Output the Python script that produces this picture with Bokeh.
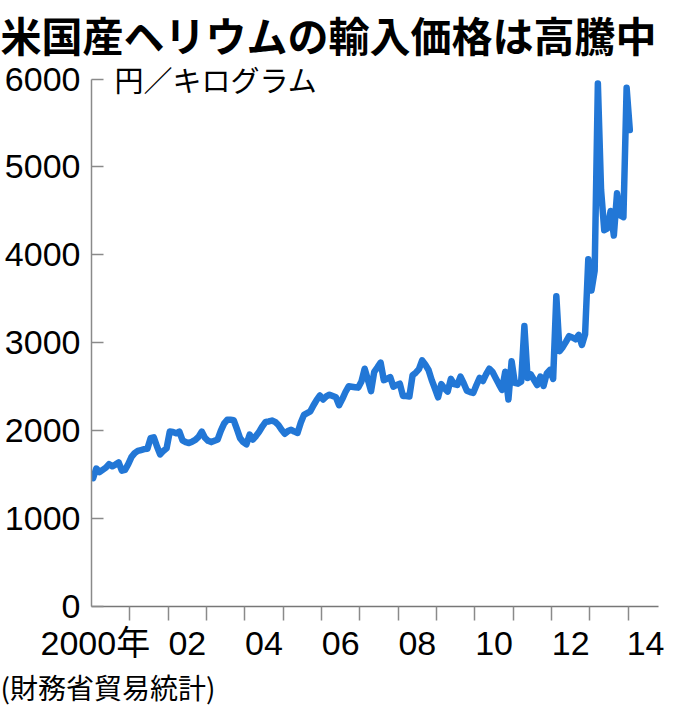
from bokeh.plotting import figure
from bokeh.models import FixedTicker, Label, Range1d, Title
from bokeh.embed import file_html
from bokeh.resources import INLINE

# ---- data (monthly import price of US helium, yen/kg, Jan 2000 - Jan 2014) ----
price = [
    1460, 1570, 1530, 1555, 1580, 1620, 1595, 1615, 1640, 1545, 1555, 1620,   # 2000
    1700, 1745, 1770, 1780, 1790, 1795, 1915, 1925, 1820, 1730, 1770, 1800,   # 2001
    1990, 1985, 1970, 1990, 1890, 1870, 1860, 1875, 1895, 1930, 1990, 1920,   # 2002
    1885, 1870, 1885, 1900, 2000, 2080, 2125, 2125, 2120, 2020, 1915, 1870,   # 2003
    1845, 1955, 1900, 1940, 1990, 2050, 2100, 2105, 2115, 2100, 2065, 2010,   # 2004
    1965, 1995, 2010, 1990, 1975, 2090, 2180, 2200, 2220, 2290, 2350, 2400,   # 2005
    2355, 2390, 2410, 2395, 2380, 2290, 2360, 2440, 2505, 2500, 2495, 2490,   # 2006
    2560, 2705, 2580, 2450, 2670, 2720, 2775, 2575, 2590, 2610, 2500, 2520,   # 2007
    2535, 2395, 2395, 2390, 2630, 2660, 2700, 2800, 2750, 2690, 2575, 2480,   # 2008
    2380, 2530, 2480, 2445, 2590, 2530, 2520, 2615, 2540, 2455, 2440, 2430,   # 2009
    2520, 2600, 2565, 2640, 2705, 2670, 2600, 2530, 2465, 2670, 2355, 2790,   # 2010
    2545, 2535, 2560, 3190, 2600, 2640, 2580, 2520, 2615, 2510, 2650, 2690,   # 2011
    2590, 3530, 2905, 2950, 3010, 3075, 3060, 3040, 3090, 2975, 3095, 3950,   # 2012
    3595, 3820, 5950, 4740, 4280, 4300, 4500, 4220, 4700, 4450, 4430, 5900,   # 2013
    5420,                                                                      # 2014
]
start_year = 2000
x = [start_year + (i + 0.5) / 12 for i in range(len(price))]

y_ticks = [0, 1000, 2000, 3000, 4000, 5000, 6000]
y_max = 6000
year_bounds = list(range(2001, 2015))
x_label_pos = [2000.1, 2002.5, 2004.5, 2006.5, 2008.5, 2010.5, 2012.5, 2014.5]
x_labels = ["2000年", "02", "04", "06", "08", "10", "12", "14"]

title_text = "米国産ヘリウムの輸入価格は高騰中"
unit_text = "円／キログラム"
source_text = "(財務省貿易統計)"

# ---- layout ----
W, H = 664, 706
L, R = 91, 6
FT = 60.2        # expected frame top (figure px), set by the title panel
AX_TOP = 74.7    # figure px of the 6000 line
FB = 599.7       # expected frame bottom (figure px)
X0, X1 = 2000, 2014.79
Y0 = 0
Y1 = y_max * (FB - FT) / (FB - AX_TOP)

p = figure(width=W, height=H, output_backend="svg", toolbar_location=None,
           x_range=Range1d(X0, X1), y_range=Range1d(Y0, Y1),
           min_border_left=L, min_border_top=0, min_border_bottom=0,
           min_border_right=R)
p.background_fill_color = "white"
p.border_fill_color = "white"
p.outline_line_color = None
p.xgrid.visible = False
p.ygrid.visible = False

# title (top-left, above the frame)
p.title.text = title_text
p.title.align = "left"
p.title.offset = -L
p.title.text_font = "Noto Sans CJK JP"
p.title.text_font_style = "bold"
p.title.text_font_size = "41px"
p.title.text_color = "black"
p.title.standoff = 2

num_font = "'Liberation Sans', 'Noto Sans CJK JP'"
axis_gray = "#8a8a8a"

# y axis
ya = p.yaxis[0]
ya.ticker = FixedTicker(ticks=y_ticks)
ya.bounds = (0, y_max)
ya.major_tick_in = 12
ya.major_tick_out = 0
ya.minor_tick_in = 0
ya.minor_tick_out = 0
ya.axis_line_color = axis_gray
ya.axis_line_width = 1.5
ya.major_tick_line_color = axis_gray
ya.major_tick_line_width = 1.5
ya.major_label_text_font = num_font
ya.major_label_text_font_size = "34px"
ya.major_label_text_color = "black"
ya.major_label_standoff = 11

# x axis
xa = p.xaxis[0]
xa.ticker = FixedTicker(ticks=x_label_pos, minor_ticks=year_bounds)
xa.major_label_overrides = {pos: lab for pos, lab in zip(x_label_pos, x_labels)}
xa.major_tick_in = 0
xa.major_tick_out = 0
xa.minor_tick_in = 0
xa.minor_tick_out = 14
xa.minor_tick_line_color = axis_gray
xa.minor_tick_line_width = 1.5
xa.axis_line_color = "#777777"
xa.axis_line_width = 1.5
xa.major_label_text_font = num_font
xa.major_label_text_font_size = "34px"
xa.major_label_text_color = "black"
xa.major_label_standoff = 3

# data line
p.line(x, price, line_width=6.5, line_color="#2277d6",
       line_join="round", line_cap="round")

# unit label inside the frame, just right of the 6000 tick
p.add_layout(Label(x=X0, y=y_max, x_offset=23, text=unit_text,
                   text_font="Noto Sans CJK JP", text_font_size="29px",
                   text_color="black", text_align="left", text_baseline="middle"))

# source note below the axis
src = Title(text=source_text, align="left", offset=-L,
            text_font="Noto Sans CJK JP", text_font_size="28px",
            text_font_style="normal", text_color="black",
            vertical_align="bottom", standoff=0)
p.add_layout(src, "below")

open("out.html", "w").write(file_html(p, INLINE))
